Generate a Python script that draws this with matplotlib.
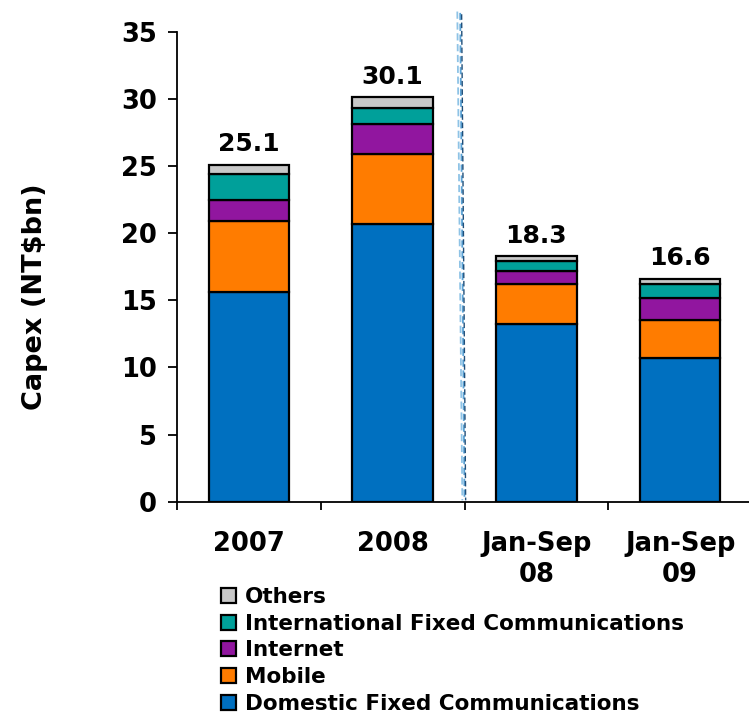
import matplotlib
matplotlib.use("Agg")
import matplotlib.pyplot as plt
import numpy as np

categories = ["2007", "2008", "Jan-Sep\n08", "Jan-Sep\n09"]
domestic = [15.6, 20.7, 13.2, 10.7]
mobile = [5.3, 5.2, 3.0, 2.8]
internet = [1.6, 2.2, 1.0, 1.7]
international = [1.9, 1.2, 0.7, 1.0]
others = [0.7, 0.8, 0.4, 0.4]
totals = [25.1, 30.1, 18.3, 16.6]
series_names = ["Domestic Fixed Communications", "Mobile", "Internet",
                "International Fixed Communications", "Others"]
y_ticks = [0, 5, 10, 15, 20, 25, 30, 35]

colors = ["#0070C0", "#FF7C00", "#91169F", "#00A09A", "#C8C8C8"]

plt.rcParams['font.family'] = ['DejaVu Sans']
plt.rcParams['font.weight'] = 'bold'

W, H = 749, 714
fig = plt.figure(figsize=(W / 100, H / 100), dpi=100)
ax_left, ax_right, ax_top, ax_bot = 177, 752, 31.7, 501.7
ax = fig.add_axes([ax_left / W, 1 - ax_bot / H, (ax_right - ax_left) / W, (ax_bot - ax_top) / H])

x = np.arange(len(categories))
series = [domestic, mobile, internet, international, others]
bottom = np.zeros(len(categories))
handles = []
for vals, c, name in zip(series, colors, series_names):
    b = ax.bar(x, vals, width=0.56, bottom=bottom, color=c, edgecolor="black",
               linewidth=1.6, label=name, zorder=3)
    handles.append(b)
    bottom += np.array(vals)

for xi, t, top in zip(x, totals, bottom):
    ax.annotate(f"{t:.1f}", (xi, top), xytext=(0, 6), textcoords="offset points",
                ha="center", va="bottom", fontsize=18, fontweight="bold")

ax.set_xlim(-0.5, 3.5)
ax.set_ylim(0, 35)
ax.set_yticks(y_ticks)
ax.set_yticklabels([str(v) for v in y_ticks], fontsize=18.5, fontweight="bold")
ax.tick_params(axis="y", length=6.5, width=1.3, pad=8, direction="out")

ax.set_xticks(np.arange(-0.5, 3.6, 1.0))
ax.set_xticklabels([])
ax.tick_params(axis="x", which="major", length=6, width=1.3, direction="out")
ax.set_xticks(x, minor=True)
ax.set_xticklabels(categories, minor=True, fontsize=18.5, fontweight="bold", linespacing=1.25)
ax.tick_params(axis="x", which="minor", length=0, pad=21)

for s in ["top", "right"]:
    ax.spines[s].set_visible(False)
for s in ["left", "bottom"]:
    ax.spines[s].set_linewidth(1.3)

ax.set_ylabel("Capex (NT$bn)", fontsize=19.5, fontweight="bold")
ax.yaxis.set_label_coords((48 - ax_left) / (ax_right - ax_left), (ax_bot - 297) / (ax_bot - ax_top))

# divider dashed lines between 2008 and Jan-Sep 08
div = 1.5
ax.plot([div - 0.05, div - 0.015], [36.5, 0.1], color="#8EC3E6", lw=1.3, ls=(0, (4, 2)), clip_on=False, zorder=4)
ax.plot([div - 0.03, div], [36.4, 0.1], color="#5BA3D6", lw=1.3, ls=(0, (4, 2)), clip_on=False, zorder=4)
ax.plot([div - 0.02, div + 0.008], [36.3, 0.1], color="#1F4E79", lw=1.0, ls=(0, (4, 2)), clip_on=False, zorder=4)

leg = fig.legend(handles[::-1], series_names[::-1], loc="upper left",
                 bbox_to_anchor=(221 / W, 1 - 587 / H), frameon=False,
                 prop={"size": 15.5, "weight": "bold"}, handlelength=0.7,
                 handleheight=0.7, handletextpad=0.4, labelspacing=0.31,
                 borderaxespad=0, borderpad=0)

fig.savefig("out.png", dpi=100)
